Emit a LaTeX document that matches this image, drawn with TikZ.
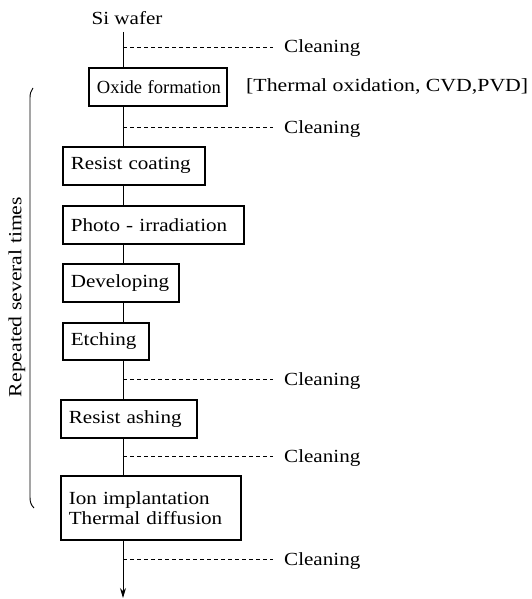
\documentclass[tikz,border=0pt]{standalone}
\usepackage{fontspec}
\usepackage{graphicx}
\setmainfont[FakeStretch=1.14]{Liberation Serif}
\usetikzlibrary{arrows.meta}
\newcommand{\fitw}[2]{\resizebox{#1pt}{\height}{#2}}
\tikzset{
  every node/.style={font=\fontsize{18.5}{20}\selectfont},
  procbox/.style={draw, line width=1.7pt, anchor=north west, inner xsep=8pt, inner ysep=0pt, align=left},
  cleanlbl/.style={anchor=base west, inner sep=0pt},
  flow/.style={line width=0.9pt},
  cleanline/.style={line width=0.9pt, dash pattern=on 4pt off 3pt, shorten >=11pt},
}
\newcommand{\pbox}[6]{%
  \node[procbox, minimum width=#4-#2, minimum height=#5-#3, text width=#4-#2-16] (#1) at (#2,#3) {#6};}
\begin{document}
\begin{tikzpicture}[x=1pt,y=-1pt]
\useasboundingbox (0,0) rectangle (531,599);
\coordinate (spine) at (123,0);
\node[anchor=base, inner sep=0pt] (si) at (127,25) {Si wafer};
\pbox{ox}{88}{67}{226}{105}{\fitw{124}{Oxide formation}}
\pbox{rc}{62}{146}{204}{184}{\mbox{Resist coating}}
\pbox{ph}{62}{205}{243}{243}{\mbox{Photo - irradiation}}
\pbox{dv}{62}{263}{178}{301}{\mbox{Developing}}
\pbox{et}{62}{322}{148}{359}{\mbox{Etching}}
\pbox{ra}{60}{399}{196}{437}{\mbox{Resist ashing}}
\pbox{ion}{60}{475}{240}{539}{\mbox{Ion implantation}\\\mbox{Thermal diffusion}}
\node[anchor=base west, inner sep=0pt] (meth) at (246,92) {\fitw{282}{[Thermal oxidation, CVD,PVD]}};
\node[cleanlbl] (c1) at (284,53) {Cleaning};
\node[cleanlbl] (c2) at (284,133) {Cleaning};
\node[cleanlbl] (c3) at (284,385) {Cleaning};
\node[cleanlbl] (c4) at (284,462) {Cleaning};
\node[cleanlbl] (c5) at (284,565) {Cleaning};
\coordinate (k1) at (123,47);
\coordinate (k2) at (123,127);
\coordinate (k3) at (123,379);
\coordinate (k4) at (123,456);
\coordinate (k5) at (123,559);
\coordinate (top) at (123,32);
\coordinate (endpt) at (123,598);
% spine connectors
\draw[flow] (top) -- (ox.north -| spine);
\draw[flow] (ox.south -| spine) -- (rc.north -| spine);
\draw[flow] (rc.south -| spine) -- (ph.north -| spine);
\draw[flow] (ph.south -| spine) -- (dv.north -| spine);
\draw[flow] (dv.south -| spine) -- (et.north -| spine);
\draw[flow] (et.south -| spine) -- (ra.north -| spine);
\draw[flow] (ra.south -| spine) -- (ion.north -| spine);
\draw[flow, -{Stealth[length=10pt, width=6pt]}] (ion.south -| spine) -- (endpt);
% cleaning branches
\draw[cleanline] (k1) -- (k1 -| c1.west);
\draw[cleanline] (k2) -- (k2 -| c2.west);
\draw[cleanline] (k3) -- (k3 -| c3.west);
\draw[cleanline] (k4) -- (k4 -| c4.west);
\draw[cleanline] (k5) -- (k5 -| c5.west);
% repeat bracket
\draw[line width=0.9pt] (33,88) .. controls (31,91) and (30,93) .. (30,98) -- (30,497) .. controls (30,502) and (31,505) .. (34,508);
\node[rotate=90, inner sep=0pt] (rep) at (17,297) {\fitw{200}{Repeated several times}};
\end{tikzpicture}
\end{document}
